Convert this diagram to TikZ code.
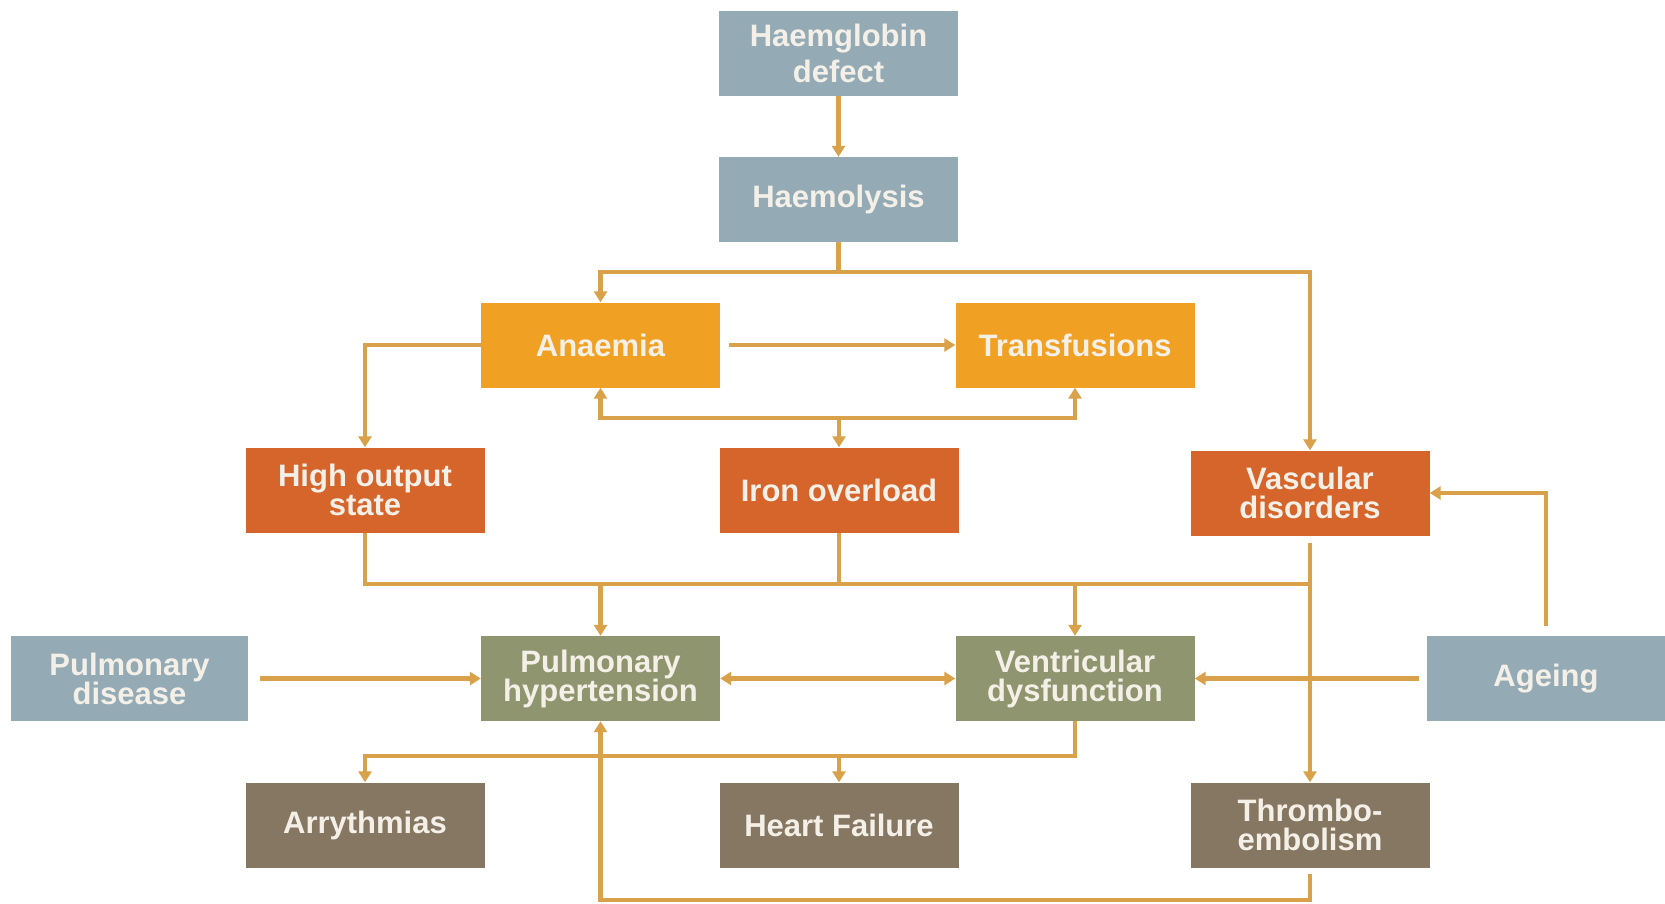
\documentclass[tikz,border=0pt]{standalone}
\usepackage{fontspec}
\setmainfont{Liberation Sans}
\usetikzlibrary{arrows.meta,calc}
\definecolor{bluegray}{HTML}{94ABB6}
\definecolor{orangeA}{HTML}{F0A023}
\definecolor{rust}{HTML}{D5652B}
\definecolor{olive}{HTML}{8E956F}
\definecolor{brownbox}{HTML}{857762}
\definecolor{linec}{HTML}{D9A24A}
\definecolor{textc}{HTML}{F4F0E8}
\begin{document}
\begin{tikzpicture}[x=1pt,y=-1pt,
  box/.style={minimum width=239pt,minimum height=85pt,inner sep=0pt,text=textc,
    font=\bfseries\fontsize{31}{29}\selectfont,align=center},
  bgbox/.style={box,fill=bluegray},
  orbox/.style={box,fill=orangeA},
  rubox/.style={box,fill=rust},
  olbox/.style={box,fill=olive},
  brbox/.style={box,fill=brownbox},
  conn/.style={draw=linec,line width=4.5pt},
  arr/.style={-{Triangle[length=11pt,width=13pt]}},
  darr/.style={{Triangle[length=11pt,width=13pt]}-{Triangle[length=11pt,width=13pt]}}]
\useasboundingbox (0,0) rectangle (1665,903);
\fill[white] (0,0) rectangle (1665,903);
% nodes
\node[bgbox,font=\bfseries\fontsize{31}{36}\selectfont] (hd) at (838.5,53.5) {Haemglobin\\defect};
\node[bgbox] (hl) at (838.5,199.5) {Haemolysis};
\node[orbox] (an) at (600.5,345) {Anaemia};
\node[orbox] (tr) at (1075,345) {Transfusions};
\node[rubox] (ho) at (365,490) {High output\\state};
\node[rubox] (io) at (839,490) {Iron overload};
\node[rubox] (vd) at (1310,493) {Vascular\\disorders};
\node[bgbox,minimum width=237pt] (pd) at (129.5,678.5) {Pulmonary\\disease};
\node[olbox] (ph) at (600.5,678.5) {Pulmonary\\hypertension};
\node[olbox] (vf) at (1075,678.5) {Ventricular\\dysfunction};
\node[bgbox,minimum width=238pt] (ag) at (1546,678.5) {Ageing};
\node[brbox] (ar) at (365,825) {Arrythmias};
\node[brbox] (hf) at (839,825) {Heart Failure};
\node[brbox] (te) at (1310,825) {Thrombo-\\embolism};
% bus coordinates
\coordinate (b1) at (838.5,272);
\coordinate (b2) at (839,418);
\coordinate (b3) at (839,584);
\coordinate (b4) at (1075,756);
\coordinate (b5) at (1310,900);
\coordinate (b3e) at (1310,584);
% connectors
\draw[conn,arr] (hd.south) -- (hl.north);
\draw[conn,arr] (hl.south) -- (b1) -| (an.north);
\draw[conn,arr] (b1) -| (vd.north);
\draw[conn,arr] ($(an.east)+(9,0)$) -- (tr.west);
\draw[conn,arr] (an.west) -| (ho.north);
\draw[conn,arr] (b2) -| (an.south);
\draw[conn,arr] (b2) -| (tr.south);
\draw[conn,arr] (b2) -- (io.north);
\draw[conn] (ho.south) |- (b3e);
\draw[conn] (io.south) -- (b3);
\draw[conn,arr] ($(vd.south)+(0,7)$) -- (te.north);
\draw[conn,arr] (ph.north |- b3) -- (ph.north);
\draw[conn,arr] (vf.north |- b3) -- (vf.north);
\draw[conn,arr] ($(pd.east)+(12,0)$) -- (ph.west);
\draw[conn,darr] (ph.east) -- (vf.west);
\draw[conn,arr] ($(ag.west)+(-8,0)$) -- (vf.east);
\draw[conn,arr] ($(ag.north)+(0,-10)$) |- (vd.east);
\draw[conn,arr] (vf.south) -- (b4) -| (ar.north);
\draw[conn,arr] (hf.north |- b4) -- (hf.north);
\draw[conn,arr] ($(te.south)+(0,6)$) -- (b5) -| (ph.south);
\end{tikzpicture}
\end{document}
